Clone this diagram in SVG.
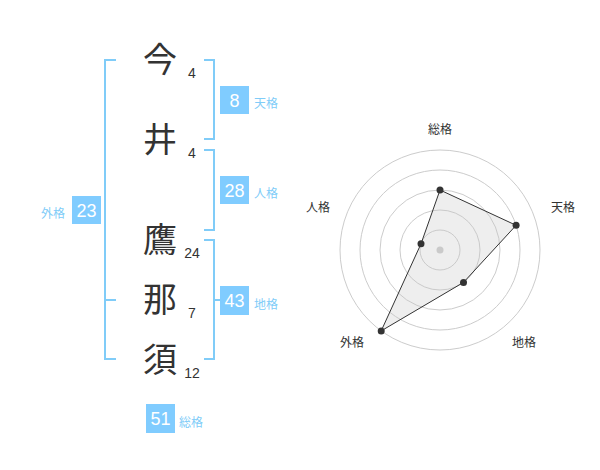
<svg xmlns="http://www.w3.org/2000/svg" width="600" height="470" viewBox="0 0 600 470">
<style>
.ch{font-family:"Noto Sans CJK JP","Noto Sans CJK SC",sans-serif;font-size:34px;fill:#333;text-anchor:middle}
.num{font-family:"Liberation Sans",Arial,sans-serif;font-size:14px;fill:#333;text-anchor:middle}
.br{fill:none;stroke:#80ccf8;stroke-width:2}
.box{fill:#80ccff}
.bt{font-family:"Liberation Sans",Arial,sans-serif;font-size:18px;fill:#fff;text-anchor:middle}
.bl{font-family:"Noto Sans CJK JP","Noto Sans CJK SC",sans-serif;font-size:12px;fill:#80ccf8}
.ring{fill:none;stroke:#ccc;stroke-width:1}
.rl{font-family:"Noto Sans CJK JP","Noto Sans CJK SC",sans-serif;font-size:12px;fill:#333;text-anchor:middle}
.pt{fill:#333}
</style>
<rect width="600" height="470" fill="#fff"/>
<g id="chars">
<text class="ch" x="160" y="72">今</text>
<text class="num" x="192" y="78">4</text>
<text class="ch" x="160" y="152">井</text>
<text class="num" x="192" y="158">4</text>
<text class="ch" x="160" y="252">鷹</text>
<text class="num" x="192" y="258">24</text>
<text class="ch" x="160" y="312">那</text>
<text class="num" x="192" y="318">7</text>
<text class="ch" x="160" y="372">須</text>
<text class="num" x="192" y="378">12</text>
</g>
<g id="connectors">
<path class="br" d="M116,60 H105 V359 H116 M105,300 H116"/>
<path class="br" d="M204,60 H214 V139 H204"/>
<path class="br" d="M204,150 H214 V230 H204"/>
<path class="br" d="M204,240 H214 V359 H204 M214,300 H220"/>
</g>
<g id="tenkaku">
<rect class="box" x="220" y="86" width="29" height="28"/>
<text class="bt" x="234.5" y="107">8</text>
<text class="bl" x="254" y="108">天格</text>
</g>
<g id="jinkaku">
<rect class="box" x="220" y="176" width="29" height="28"/>
<text class="bt" x="234.5" y="197">28</text>
<text class="bl" x="254" y="198">人格</text>
</g>
<g id="chikaku">
<rect class="box" x="220" y="286" width="29" height="29"/>
<text class="bt" x="234.5" y="307">43</text>
<text class="bl" x="254" y="309">地格</text>
</g>
<g id="gaikaku">
<rect class="box" x="72" y="196" width="29" height="28"/>
<text class="bt" x="86.5" y="217">23</text>
<text class="bl" x="41" y="218">外格</text>
</g>
<g id="soukaku">
<rect class="box" x="146" y="404" width="29" height="29"/>
<text class="bt" x="160.5" y="425">51</text>
<text class="bl" x="179" y="427">総格</text>
</g>
<g id="radar">
<circle class="ring" cx="440" cy="250" r="20"/>
<circle class="ring" cx="440" cy="250" r="40"/>
<circle class="ring" cx="440" cy="250" r="60"/>
<circle class="ring" cx="440" cy="250" r="80"/>
<circle class="ring" cx="440" cy="250" r="100"/>
<circle cx="440" cy="250" r="3.5" fill="#ccc"/>
<polygon points="440,190 516.1,225.3 463.5,282.4 381.2,330.9 421,243.8" fill="rgba(200,200,200,0.3)" stroke="#333" stroke-width="1"/>
<circle class="pt" cx="440" cy="190" r="3.5"/>
<circle class="pt" cx="516.1" cy="225.3" r="3.5"/>
<circle class="pt" cx="463.5" cy="282.4" r="3.5"/>
<circle class="pt" cx="381.2" cy="330.9" r="3.5"/>
<circle class="pt" cx="421" cy="243.8" r="3.5"/>
<text class="rl" x="440" y="134">総格</text>
<text class="rl" x="563" y="212">天格</text>
<text class="rl" x="524" y="347">地格</text>
<text class="rl" x="352" y="347">外格</text>
<text class="rl" x="318" y="212">人格</text>
</g>
</svg>
